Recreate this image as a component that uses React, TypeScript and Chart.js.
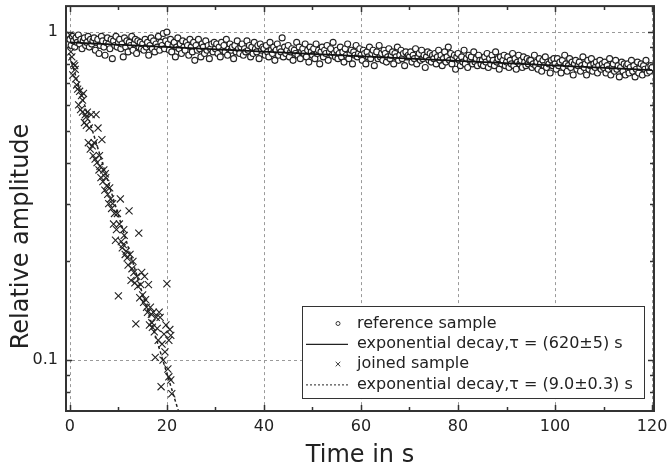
import React, { useEffect, useRef } from "react";
import { Chart, registerables } from "chart.js";

Chart.register(...registerables);

// ---------------- data ----------------
// reference sample: sampled every 0.25 s starting at 0 s; amplitudes in percent
const refStartTime = 0;
const refInterval = 0.25;
const refAmpPct = [
  95, 91, 97, 94, 90, 96, 93, 98, 92, 95, 89, 94, 96, 91, 93, 97, 90, 95, 92, 94,
  96, 88, 93, 95, 86, 91, 97, 94, 90, 85, 93, 96, 92, 89, 95, 83, 94, 91, 97, 90,
  93, 95, 89, 92, 84, 96, 90, 94, 87, 93, 91, 97, 88, 92, 95, 86, 94, 90, 93, 89,
  92, 88, 95, 90, 93, 85, 91, 96, 89, 94, 87, 92, 90, 97, 88, 93, 91, 99, 89, 94,
  100, 92, 88, 95, 87, 91, 93, 84, 90, 96, 89, 92, 86, 94, 90, 88, 93, 91, 85, 95,
  90, 87, 93, 82, 91, 88, 95, 89, 84, 92, 90, 86, 94, 88, 91, 83, 89, 92, 87, 93,
  89, 92, 86, 90, 84, 93, 88, 91, 87, 95, 85, 89, 92, 88, 90, 83, 91, 87, 94, 89,
  86, 90, 92, 85, 89, 87, 94, 88, 91, 84, 90, 86, 93, 89, 87, 91, 83, 92, 88, 90,
  89, 85, 91, 87, 84, 93, 88, 86, 90, 82, 88, 92, 85, 89, 87, 96, 84, 90, 86, 88,
  91, 84, 87, 89, 82, 88, 86, 93, 85, 90, 83, 87, 89, 86, 92, 84, 88, 81, 90, 87,
  85, 89, 83, 92, 86, 88, 80, 87, 90, 84, 88, 86, 91, 82, 87, 89, 85, 93, 86, 84,
  88, 83, 86, 90, 84, 87, 81, 89, 85, 92, 83, 86, 88, 80, 87, 85, 91, 84, 86, 89,
  85, 82, 88, 86, 80, 87, 84, 90, 83, 86, 88, 79, 85, 87, 83, 91, 84, 86, 82, 88,
  86, 81, 84, 89, 83, 85, 87, 80, 86, 84, 90, 82, 85, 88, 83, 86, 79, 87, 84, 85,
  84, 87, 81, 85, 83, 89, 80, 84, 86, 82, 88, 83, 85, 78, 84, 87, 82, 86, 81, 85,
  83, 86, 80, 84, 88, 82, 85, 79, 83, 87, 81, 84, 90, 82, 86, 80, 83, 85, 77, 84,
  86, 82, 79, 84, 81, 88, 80, 83, 78, 85, 82, 84, 80, 87, 81, 83, 79, 85, 82, 80,
  82, 79, 84, 81, 86, 78, 83, 80, 85, 82, 79, 87, 81, 83, 77, 84, 80, 82, 85, 79,
  81, 84, 78, 82, 80, 86, 79, 83, 77, 81, 85, 80, 82, 78, 84, 81, 79, 83, 80, 82,
  82, 78, 80, 85, 79, 81, 77, 83, 80, 76, 82, 79, 84, 78, 81, 80, 75, 82, 79, 83,
  80, 77, 83, 79, 81, 75, 82, 78, 85, 80, 76, 79, 83, 78, 81, 74, 80, 82, 77, 79,
  81, 76, 79, 84, 78, 80, 74, 82, 77, 79, 83, 76, 80, 78, 81, 75, 79, 82, 77, 80,
  78, 81, 75, 79, 77, 83, 74, 78, 80, 76, 82, 77, 79, 73, 78, 81, 76, 80, 74, 79,
  80, 75, 78, 82, 76, 79, 73, 77, 81, 75, 78, 80, 74, 79, 77, 82, 75, 78, 76, 79,
  78,
];

// joined sample
const joinedTime = [
  0.0, 0.2, 0.4, 0.6, 0.8, 1.0, 1.2, 1.4, 1.6, 1.8, 2.0, 2.2, 2.4, 2.6, 2.8,
  3.0, 3.2, 3.4, 3.6, 3.8, 4.0, 4.2, 4.4, 4.6, 4.8, 5.0, 5.2, 5.4, 5.6, 5.8,
  6.0, 6.2, 6.4, 6.6, 6.8, 7.0, 7.2, 7.4, 7.6, 7.8, 8.0, 8.2, 8.4, 8.6, 8.8,
  9.0, 9.2, 9.4, 9.6, 9.8, 10.0, 10.2, 10.4, 10.6, 10.8, 11.0, 11.2, 11.4, 11.6, 11.8,
  12.0, 12.2, 12.4, 12.6, 12.8, 13.0, 13.2, 13.4, 13.6, 13.8, 14.0, 14.2, 14.4, 14.6, 14.8,
  15.0, 15.2, 15.4, 15.6, 15.8, 16.0, 16.2, 16.4, 16.6, 16.8, 17.0, 17.2, 17.4, 17.6, 17.8,
  18.0, 18.2, 18.4, 18.6, 18.8, 19.0, 19.2, 19.4, 19.6, 19.8, 20.0, 20.2, 20.4, 20.6, 20.8,
  21.0, 20.4, 20.8, 1.1, 2.6, 3.3, 6.1, 7.3, 11.1, 16.9,
];
const joinedAmp = [
  0.98, 0.87, 0.84, 0.74, 0.8, 0.79, 0.72, 0.69, 0.67, 0.6, 0.66, 0.58, 0.64, 0.57, 0.65,
  0.53, 0.56, 0.52, 0.57, 0.46, 0.51, 0.44, 0.56, 0.45, 0.42, 0.46, 0.41, 0.56, 0.4, 0.51,
  0.38, 0.39, 0.36, 0.47, 0.35, 0.38, 0.33, 0.36, 0.34, 0.32, 0.3, 0.335, 0.31, 0.29, 0.3,
  0.26, 0.28, 0.232, 0.25, 0.28, 0.157, 0.26, 0.31, 0.23, 0.22, 0.225, 0.24, 0.21, 0.215, 0.205,
  0.195, 0.285, 0.21, 0.175, 0.19, 0.2, 0.185, 0.172, 0.129, 0.18, 0.168, 0.244, 0.155, 0.17, 0.185,
  0.158, 0.15, 0.18, 0.153, 0.145, 0.14, 0.17, 0.128, 0.145, 0.138, 0.126, 0.14, 0.122, 0.102, 0.135,
  0.125, 0.115, 0.14, 0.135, 0.083, 0.112, 0.1, 0.12, 0.106, 0.128, 0.171, 0.094, 0.089, 0.124, 0.087,
  0.079, 0.115, 0.119, 0.77, 0.62, 0.55, 0.42, 0.37, 0.25, 0.13,
];

// fitted exponential decays (straight on a log axis: end points suffice)
const fitRefTime = [0, 120];
const fitRefAmp = [0.93, 0.766];
const fitJoinedTime = [0, 22.5];
const fitJoinedAmp = [0.84, 0.069];

const seriesLabels = [
  "reference sample",
  "exponential decay,\u03c4 = (620\u00b15) s",
  "joined sample",
  "exponential decay,\u03c4 = (9.0\u00b10.3) s",
];

const xTickValues = [0, 10, 20, 30, 40, 50, 60, 70, 80, 90, 100, 110, 120];
const xLabelledTicks = [0, 20, 40, 60, 80, 100, 120];
const yTickValues = [0.08, 0.09, 0.1, 0.2, 0.3, 0.4, 0.5, 0.6, 0.7, 0.8, 0.9, 1];
const yLabelledTicks = [0.1, 1];
const yTickLabels = ["0.1", "1"];

const xTitle = "Time in s";
const yTitle = "Relative amplitude";

// ---------------- styling ----------------
const FONT = "'DejaVu Sans', Verdana, sans-serif";
const INK = "#222";
const GRID = "#9a9a9a";
const TITLE_SIZE = 24;

const isClose = (a: number, b: number) => Math.abs(a - b) < 1e-9;

const framePlugin = {
  id: "frame",
  beforeDatasetsDraw(chart: any) {
    const { ctx, chartArea: ca, scales } = chart;
    const xs = scales.x;
    const ys = scales.y;
    ctx.save();
    ctx.strokeStyle = GRID;
    ctx.lineWidth = 1;
    ctx.setLineDash([3, 3]);
    for (const v of xLabelledTicks) {
      const px = Math.round(xs.getPixelForValue(v)) + 0.5;
      ctx.beginPath();
      ctx.moveTo(px, ca.top);
      ctx.lineTo(px, ca.bottom);
      ctx.stroke();
    }
    for (const v of yLabelledTicks) {
      const py = Math.round(ys.getPixelForValue(v)) + 0.5;
      ctx.beginPath();
      ctx.moveTo(ca.left, py);
      ctx.lineTo(ca.right, py);
      ctx.stroke();
    }
    ctx.restore();
  },
  afterDatasetsDraw(chart: any) {
    const { ctx, chartArea: ca, scales } = chart;
    const xs = scales.x;
    const ys = scales.y;
    ctx.save();
    ctx.strokeStyle = "#333";
    ctx.lineWidth = 1.5;
    ctx.setLineDash([]);
    // inward ticks
    for (const v of xTickValues) {
      const px = Math.round(xs.getPixelForValue(v)) + 0.5;
      const len = xLabelledTicks.some((m) => isClose(m, v)) ? 6 : 4;
      ctx.beginPath();
      ctx.moveTo(px, ca.bottom);
      ctx.lineTo(px, ca.bottom - len);
      ctx.moveTo(px, ca.top);
      ctx.lineTo(px, ca.top + len);
      ctx.stroke();
    }
    for (const v of yTickValues) {
      const py = Math.round(ys.getPixelForValue(v)) + 0.5;
      const len = yLabelledTicks.some((m) => isClose(m, v)) ? 6 : 4;
      ctx.beginPath();
      ctx.moveTo(ca.left, py);
      ctx.lineTo(ca.left + len, py);
      ctx.moveTo(ca.right, py);
      ctx.lineTo(ca.right - len, py);
      ctx.stroke();
    }
    // frame
    ctx.lineWidth = 2;
    ctx.strokeRect(ca.left, ca.top, ca.right - ca.left, ca.bottom - ca.top);

    // y-axis title (centred on the figure height)
    ctx.save();
    ctx.translate(22, chart.height / 2);
    ctx.rotate(-Math.PI / 2);
    ctx.fillStyle = INK;
    ctx.font = `${TITLE_SIZE}px ${FONT}`;
    ctx.textAlign = "center";
    ctx.textBaseline = "middle";
    ctx.fillText(yTitle, 0, 0);
    ctx.restore();

    // legend box
    const w = 342;
    const h = 92;
    const lx = ca.right - 10 - w;
    const ly = ca.bottom - 13 - h;
    ctx.fillStyle = "#fff";
    ctx.fillRect(lx, ly, w, h);
    ctx.lineWidth = 1;
    ctx.strokeStyle = "#333";
    ctx.strokeRect(lx + 0.5, ly + 0.5, w, h);
    const rowH = 20.3;
    const symX = lx + 36;
    const textX = lx + 55;
    ctx.font = `16px ${FONT}`;
    ctx.textBaseline = "middle";
    ctx.textAlign = "left";
    chart.data.datasets.forEach((ds: any, i: number) => {
      const cy = ly + 17.5 + i * rowH;
      ctx.save();
      ctx.strokeStyle = "#222";
      if (ds.showLine) {
        ctx.lineWidth = ds.borderDash && ds.borderDash.length ? 1 : 1.3;
        ctx.setLineDash(ds.borderDash && ds.borderDash.length ? [2, 2] : []);
        ctx.beginPath();
        ctx.moveTo(lx + 4, cy + 0.5);
        ctx.lineTo(lx + 46, cy + 0.5);
        ctx.stroke();
      } else if (ds.pointStyle === "circle") {
        ctx.lineWidth = 0.9;
        ctx.beginPath();
        ctx.arc(symX, cy, 2, 0, Math.PI * 2);
        ctx.stroke();
      } else {
        ctx.lineWidth = 0.9;
        const r = 2.3;
        ctx.beginPath();
        ctx.moveTo(symX - r, cy - r);
        ctx.lineTo(symX + r, cy + r);
        ctx.moveTo(symX + r, cy - r);
        ctx.lineTo(symX - r, cy + r);
        ctx.stroke();
      }
      ctx.restore();
      ctx.fillStyle = INK;
      ctx.fillText(ds.label, textX, cy);
    });
    ctx.restore();
  },
};

export default function App() {
  const canvasRef = useRef<HTMLCanvasElement | null>(null);

  useEffect(() => {
    const canvas = canvasRef.current;
    if (!canvas) return;

    const refPoints = refAmpPct.map((p, i) => ({
      x: refStartTime + i * refInterval,
      y: p / 100,
    }));
    const joinedPoints = joinedTime.map((t, i) => ({ x: t, y: joinedAmp[i] }));
    const fitRefPoints = fitRefTime.map((t, i) => ({ x: t, y: fitRefAmp[i] }));
    const fitJoinedPoints = fitJoinedTime.map((t, i) => ({ x: t, y: fitJoinedAmp[i] }));

    const chart = new Chart(canvas, {
      type: "scatter",
      data: {
        datasets: [
          {
            label: seriesLabels[0],
            data: refPoints,
            pointStyle: "circle",
            pointRadius: 3,
            pointBorderWidth: 1.1,
            pointBorderColor: "#222",
            pointBackgroundColor: "#ffffff",
            showLine: false,
            order: 3,
          },
          {
            label: seriesLabels[1],
            data: fitRefPoints,
            showLine: true,
            borderColor: "#111",
            borderWidth: 1.8,
            pointRadius: 0,
            borderDash: [],
            order: 0,
          },
          {
            label: seriesLabels[2],
            data: joinedPoints,
            pointStyle: "crossRot",
            pointRadius: 5,
            pointBorderWidth: 1.1,
            pointBorderColor: "#222",
            showLine: false,
            order: 2,
          },
          {
            label: seriesLabels[3],
            data: fitJoinedPoints,
            showLine: true,
            borderColor: "#222",
            borderWidth: 1.5,
            borderDash: [3, 2.5],
            pointRadius: 0,
            order: 1,
          },
        ],
      },
      options: {
        responsive: false,
        animation: false,
        devicePixelRatio: 1,
        events: [],
        layout: { padding: { top: 4, right: 13, left: 0, bottom: 0 } },
        plugins: {
          legend: { display: false },
          tooltip: { enabled: false },
          title: { display: false },
        },
        scales: {
          x: {
            type: "linear",
            min: -0.8,
            max: 120.4,
            afterBuildTicks: (s: any) => {
              s.ticks = xTickValues.map((v) => ({ value: v }));
            },
            afterFit: (s: any) => {
              s.height = 62;
              s.paddingLeft = 0;
              s.paddingRight = 0;
              s.paddingTop = 0;
              s.paddingBottom = 0;
            },
            grid: { display: false, drawTicks: false },
            border: { display: false },
            ticks: {
              autoSkip: false,
              maxRotation: 0,
              padding: 6,
              color: INK,
              font: { family: FONT, size: 16 },
              callback: (v: any) =>
                xLabelledTicks.some((m) => isClose(m, Number(v))) ? String(v) : "",
            },
            title: {
              display: true,
              text: xTitle,
              color: INK,
              font: { family: FONT, size: TITLE_SIZE },
              padding: { top: 0, bottom: 3 },
            },
          },
          y: {
            type: "logarithmic",
            min: 0.07,
            max: 1.2,
            afterBuildTicks: (s: any) => {
              s.ticks = yTickValues.map((v) => ({ value: v }));
            },
            afterFit: (s: any) => {
              s.width = 66;
              s.paddingLeft = 0;
              s.paddingRight = 0;
              s.paddingTop = 0;
              s.paddingBottom = 0;
            },
            grid: { display: false, drawTicks: false },
            border: { display: false },
            ticks: {
              autoSkip: false,
              padding: 8,
              color: INK,
              font: { family: FONT, size: 16 },
              callback: (v: any) => {
                const k = yLabelledTicks.findIndex((m) => isClose(m, Number(v)));
                return k >= 0 ? yTickLabels[k] : "";
              },
            },
            title: { display: false, text: yTitle },
          },
        },
      },
      plugins: [framePlugin],
    });

    return () => chart.destroy();
  }, []);

  return (
    <div style={{ position: "absolute", left: 0, top: 0, width: 667, height: 473, background: "#fff" }}>
      <canvas ref={canvasRef} width={667} height={473} style={{ display: "block" }} />
    </div>
  );
}
